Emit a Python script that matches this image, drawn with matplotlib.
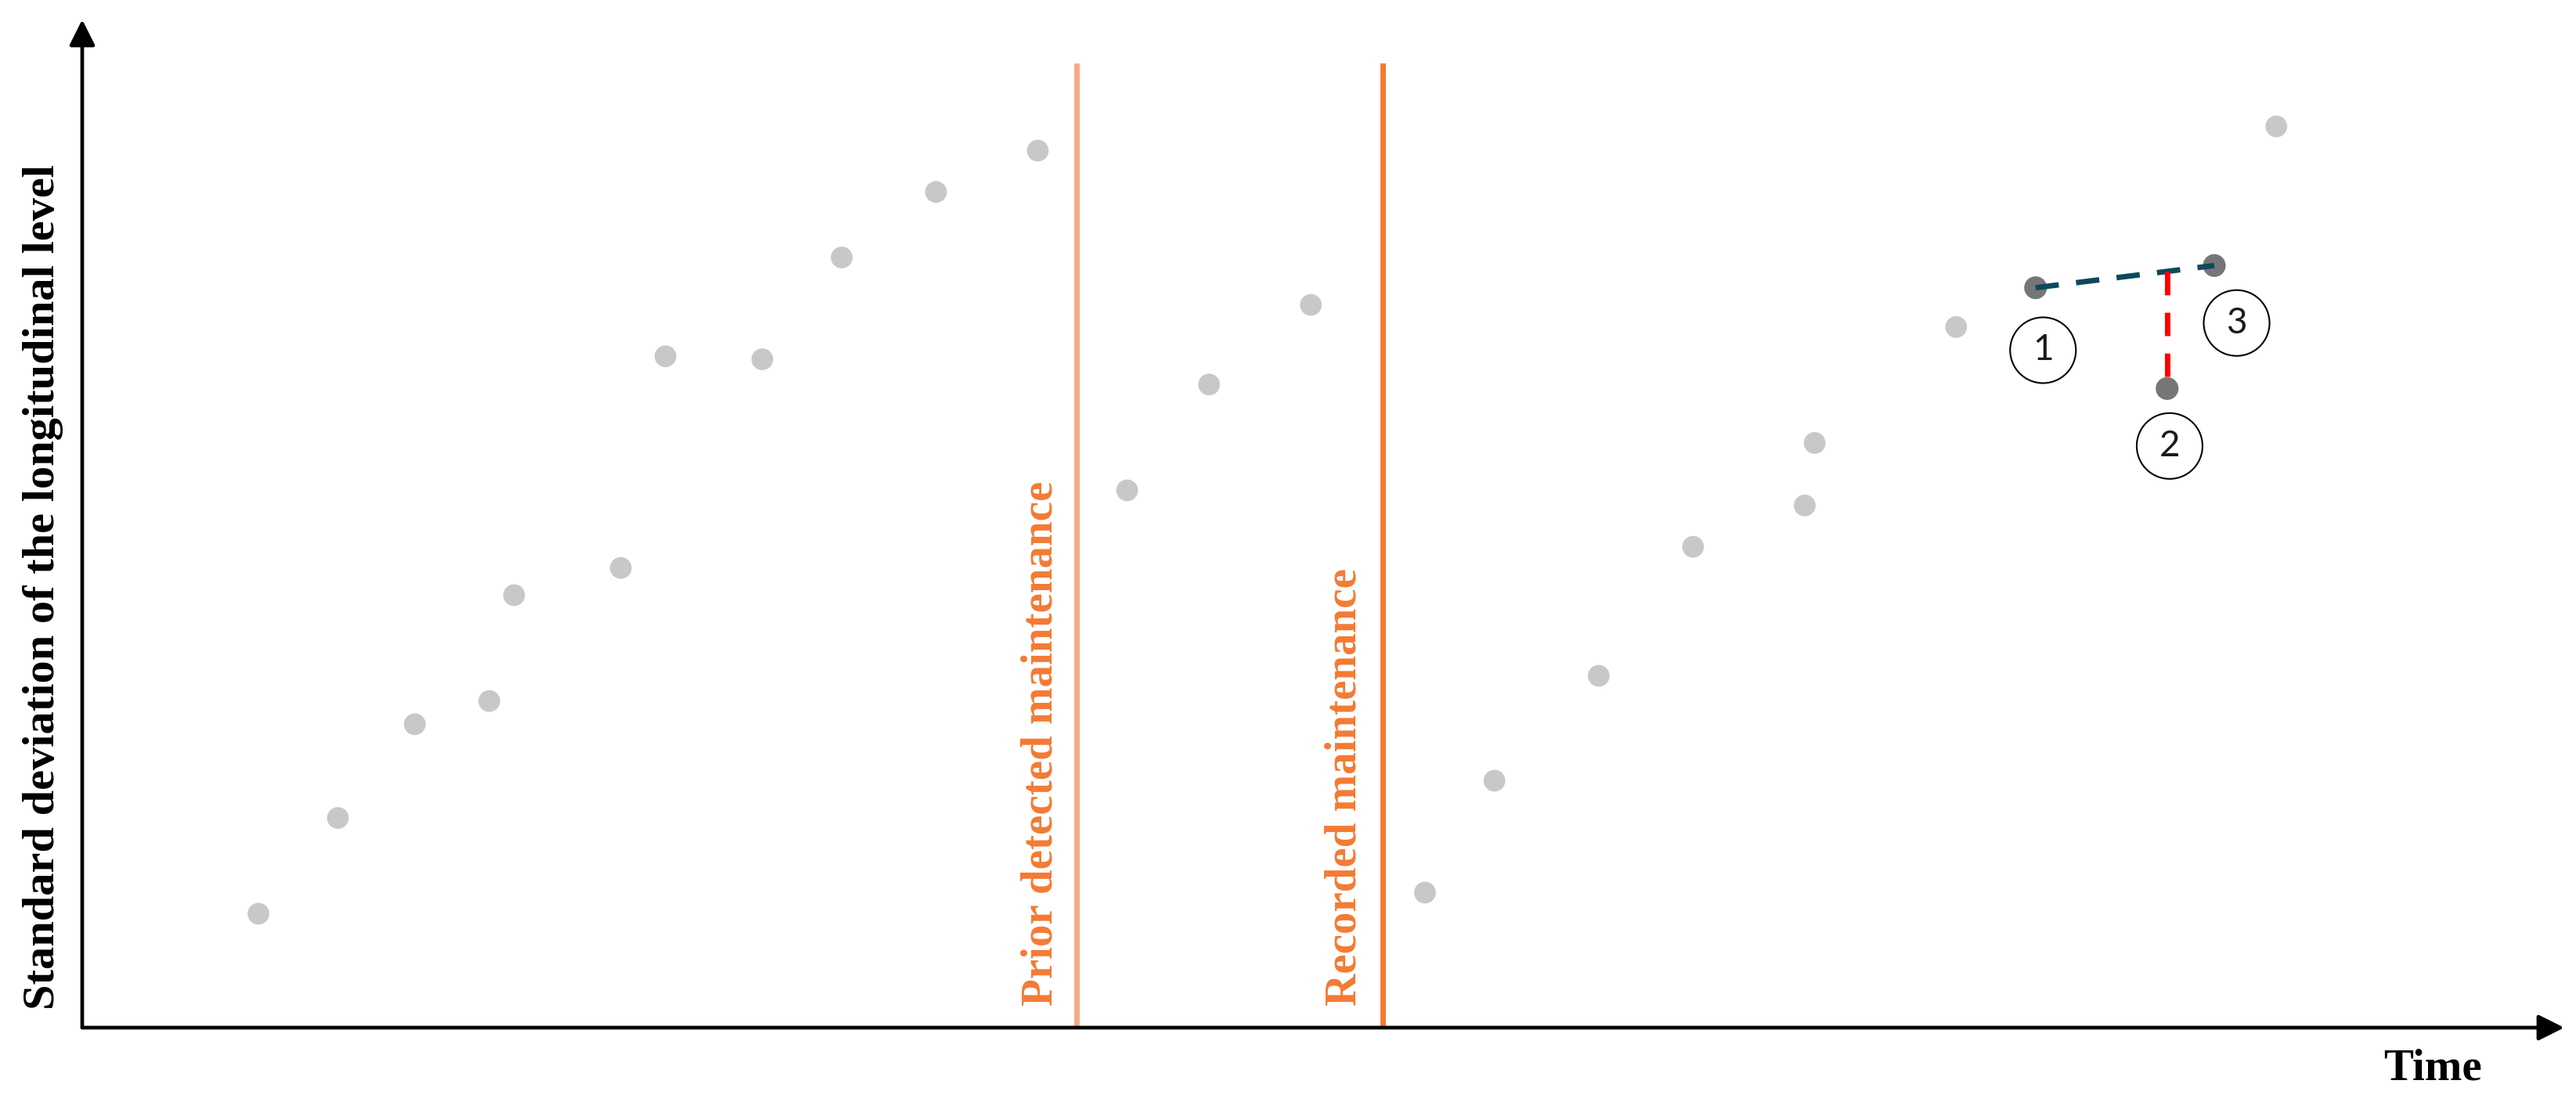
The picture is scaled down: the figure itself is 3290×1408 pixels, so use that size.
import numpy as np
import matplotlib.pyplot as plt
from matplotlib.patches import FancyArrowPatch

# time / standard deviation readings (arbitrary units, 0-100)
time_grey = [7.1, 10.3, 13.4, 16.4, 17.4, 21.7, 23.5, 27.4, 30.6, 34.4, 38.5,
             42.1, 45.4, 49.5, 54.1, 56.9, 61.1, 64.9, 69.4, 69.8, 75.5, 88.4]
std_grey = [11.3, 20.8, 30.1, 32.4, 42.9, 45.6, 66.6, 66.3, 76.4, 82.9, 87.0,
            53.3, 63.8, 71.7, 13.4, 24.5, 34.9, 47.7, 51.8, 58.0, 69.5, 89.4]

# highlighted points 1, 2, 3
time_key = [78.7, 84.0, 85.9]
std_key = [73.4, 63.4, 75.6]
key_labels = ["1", "2", "3"]
label_time = [79.0, 84.1, 86.8]
label_std = [67.2, 57.7, 69.9]

prior_maint = 40.05
recorded_maint = 52.4
line_top = 95.4

fig = plt.figure(figsize=(32.9, 14.08), dpi=100)
ax = fig.add_axes([105 / 3290, 95 / 1408, 3170 / 3290, 1288 / 1408])
ax.set_xlim(0, 100)
ax.set_ylim(0, 100)
ax.axis("off")

# axes arrows
for end in [(1, 0), (0, 1)]:
    arr = FancyArrowPatch((0, 0), end, transform=ax.transAxes,
                          arrowstyle="-|>,head_length=20,head_width=10",
                          mutation_scale=1, lw=3.4, color="black",
                          shrinkA=0, shrinkB=0, clip_on=False, zorder=5)
    ax.add_patch(arr)

# maintenance lines
ax.plot([prior_maint, prior_maint], [0, line_top], color="#f8ab84", lw=5, zorder=2)
ax.plot([recorded_maint, recorded_maint], [0, line_top], color="#f47a33", lw=5, zorder=2)

ax.scatter(time_grey, std_grey, s=400, color="#c8c8c8", edgecolors="none", zorder=3)
ax.scatter(time_key, std_key, s=440, color="#767676", edgecolors="none", zorder=3)

# dashed line between 1 and 3, red drop to 2
ax.plot([time_key[0], time_key[2]], [std_key[0], std_key[2]], color="#0b4a5e",
        lw=5, dashes=(4.3, 3.2), zorder=4)
y_on_line = np.interp(time_key[1], [time_key[0], time_key[2]], [std_key[0], std_key[2]])
ax.plot([time_key[1], time_key[1]], [y_on_line, std_key[1]], color="#ff0000",
        lw=5, dashes=(4.3, 3.2), zorder=4)

# circled labels
ax.scatter(label_time, label_std, s=3660, facecolors="none", edgecolors="black",
           linewidths=1.5, zorder=4)
for t, s, lab in zip(label_time, label_std, key_labels):
    ax.text(t, s, lab, ha="center", va="center", fontsize=33, family="Lato",
            color="#1a1a1a", zorder=5)

serif = ["Liberation Serif", "DejaVu Serif"]
fig.text(55 / 3290, 1 - 750 / 1408, "Standard deviation of the longitudinal level",
         rotation=90, ha="center", va="center", fontsize=42, fontweight="bold", family=serif)
fig.text(3107 / 3290, 1 - 1366 / 1408, "Time", ha="center", va="center",
         fontsize=41, fontweight="bold", family=serif)
fig.text(1329 / 3290, 1 - 1285 / 1408, "Prior detected maintenance", rotation=90,
         ha="center", va="bottom", fontsize=41, fontweight="bold", family=serif,
         color="#f47a33")
fig.text(1717 / 3290, 1 - 1285 / 1408, "Recorded maintenance", rotation=90,
         ha="center", va="bottom", fontsize=41, fontweight="bold", family=serif,
         color="#f47a33")

plt.savefig("out.png", dpi=100)
